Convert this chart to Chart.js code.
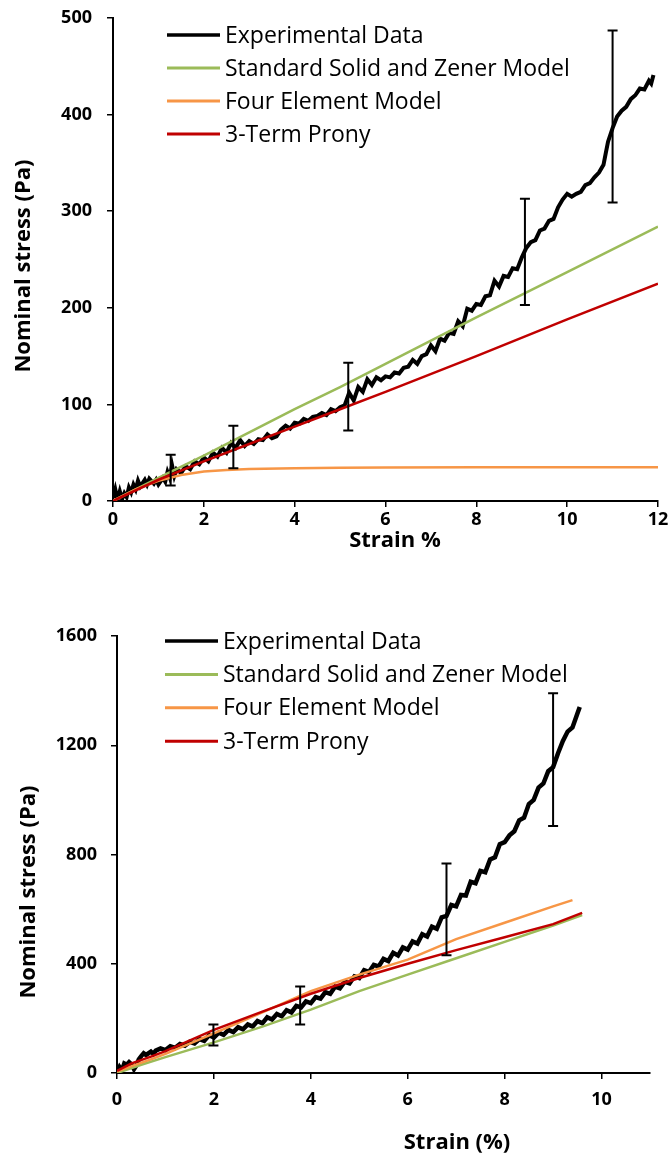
<!DOCTYPE html>
<html>
<head>
<meta charset="utf-8">
<script src="https://cdn.jsdelivr.net/npm/chart.js@4.4.1/dist/chart.umd.min.js"></script>
<style>
  html, body { margin: 0; padding: 0; background: #fff; }
  #box1 { position: absolute; left: 0; top: 0; width: 668px; height: 580px; }
  #box2 { position: absolute; left: 0; top: 580px; width: 668px; height: 579px; }
</style>
</head>
<body>
<div id="box1"><canvas id="chart1"></canvas></div>
<div id="box2"><canvas id="chart2"></canvas></div>
<script>
// ---- top chart data ----
const topExpX = [0,0.05,0.1,0.15,0.2,0.25,0.3,0.35,0.4,0.45,0.5,0.55,0.6,0.7,0.75,0.8,0.9,0.95,1,1.1,1.15,1.2,1.25,1.3,1.35,1.4,1.5,1.6,1.7,1.8,1.9,2,2.1,2.2,2.3,2.4,2.5,2.6,2.7,2.8,2.9,3,3.1,3.2,3.3,3.4,3.5,3.6,3.7,3.8,3.9,4,4.1,4.2,4.3,4.4,4.5,4.6,4.7,4.8,4.9,5,5.1,5.2,5.3,5.4,5.5,5.6,5.7,5.8,5.9,6,6.1,6.2,6.3,6.4,6.5,6.6,6.7,6.8,6.9,7,7.1,7.2,7.3,7.4,7.5,7.6,7.7,7.8,7.9,8,8.1,8.2,8.3,8.4,8.5,8.6,8.7,8.8,8.9,9,9.1,9.2,9.3,9.4,9.5,9.6,9.7,9.8,9.9,10,10.1,10.2,10.3,10.4,10.5,10.6,10.7,10.8,10.85,10.9,11,11.1,11.2,11.3,11.4,11.5,11.6,11.7,11.8,11.85,11.9];
const topExpY = [3,12,1,10,2,8,4,14,9,17,12,21,15,22,17,23,18,22,17,24,20,30,24,37,26,33,29,36,33,41,38,45,41,50,46,55,50,60,55,63,57,62,59,64,63,69,65,67,74,78,75,81,80,85,83,87,88,91,89,95,93,97,99,112,104,118,113,126,120,128,125,129,128,133,132,138,139,146,142,150,152,161,155,168,166,174,173,186,181,199,197,204,203,212,213,228,222,233,232,241,240,252,262,268,270,280,282,290,292,304,312,318,315,318,320,327,329,335,340,348,360,372,386,398,404,408,416,420,427,426,435,432,441];

const topSlsX = [0,1,2,3,4,5,6,8,10,12];
const topSlsY = [0,24,47,71,95,118,142,190,237,284];
const topFourX = [0,0.5,1,1.5,2,2.5,3,4,5,6,8,12];
const topFourY = [0,12,21,27,30.5,32,33,34,34.5,34.7,34.9,35];
const topPronyX = [0,1,2,3,4,5,6,8,10,12];
const topPronyY = [0,22,41,59,77,95,113,150,188,225];

const topErrX = [1.27, 2.65, 5.18, 9.07, 11.0];
const topErrLow = [16, 34, 73, 203, 309];
const topErrHigh = [48, 78, 143, 313, 487];

// ---- bottom chart data ----
const botExpX = [0,0.05,0.1,0.15,0.2,0.25,0.3,0.35,0.4,0.45,0.5,0.55,0.6,0.7,0.75,0.8,0.9,1,1.1,1.2,1.3,1.4,1.5,1.6,1.7,1.8,1.9,2,2.1,2.2,2.3,2.4,2.5,2.6,2.7,2.8,2.9,3,3.1,3.2,3.3,3.4,3.5,3.6,3.7,3.8,3.9,4,4.1,4.2,4.3,4.4,4.5,4.6,4.7,4.8,4.9,5,5.1,5.2,5.3,5.4,5.5,5.6,5.7,5.8,5.9,6,6.1,6.2,6.3,6.4,6.5,6.6,6.7,6.8,6.9,7,7.1,7.2,7.3,7.4,7.5,7.6,7.7,7.8,7.9,8,8.1,8.2,8.3,8.4,8.5,8.6,8.7,8.8,8.9,9,9.1,9.2,9.3,9.4,9.5,9.55];
const botExpY = [5,22,8,35,30,40,32,14,28,50,62,72,66,78,70,82,90,84,98,92,106,100,114,108,124,118,138,130,148,140,158,150,168,160,178,170,190,182,204,196,216,208,230,222,246,240,262,256,278,272,296,290,316,310,334,328,354,348,376,370,396,390,418,410,440,430,460,452,482,474,508,500,536,528,570,575,615,610,652,650,700,695,740,735,782,790,838,845,870,885,925,935,985,1000,1045,1060,1105,1120,1170,1215,1250,1265,1315,1340];

const botSlsX = [0,0.5,1,2,3,4,5,6,7,8,9,9.6];
const botSlsY = [0,30,58,112,170,232,300,360,420,480,540,578];
const botFourX = [0,0.3,0.7,1,2,3,4,5,6,7,8,9,9.4];
const botFourY = [5,25,50,70,145,222,300,360,415,490,550,610,633];
const botPronyX = [0,0.3,0.7,1,2,3,4,5,6,7,8,9,9.6];
const botPronyY = [8,35,60,80,158,225,290,348,400,450,497,545,586];

const botErrX = [1.99, 3.78, 6.8, 9.0];
const botErrLow = [101, 178, 431, 904];
const botErrHigh = [178, 317, 767, 1390];

const seriesNames = ["Experimental Data", "Standard Solid and Zener Model", "Four Element Model", "3-Term Prony"];
const seriesColors = ["#000000", "#9BBB59", "#F79646", "#C00000"];

const FONT = "'Open Sans'";
const pts = (xs, ys) => xs.map((x, i) => ({ x: x, y: ys[i] }));

// error bars, legend and axis titles drawn on top
const overlay = {
  id: 'overlay',
  afterDatasetsDraw(chart, args, o) {
    const ctx = chart.ctx;
    const xs = chart.scales.x, ys = chart.scales.y;
    const a = chart.chartArea;
    ctx.save();
    ctx.strokeStyle = '#000';
    ctx.lineWidth = 2;
    o.errX.forEach((v, i) => {
      const px = xs.getPixelForValue(v);
      const lo = ys.getPixelForValue(o.errLow[i]);
      const hi = ys.getPixelForValue(o.errHigh[i]);
      ctx.beginPath();
      ctx.moveTo(px, lo); ctx.lineTo(px, hi);
      ctx.moveTo(px - 5, lo); ctx.lineTo(px + 5, lo);
      ctx.moveTo(px - 5, hi); ctx.lineTo(px + 5, hi);
      ctx.stroke();
    });

    ctx.font = '23px ' + FONT;
    ctx.textBaseline = 'middle';
    ctx.fillStyle = '#000';
    chart.data.datasets.forEach((d, i) => {
      const y = a.top + o.legTop + i * o.legGap;
      const x0 = a.left + o.legLeft;
      ctx.strokeStyle = d.borderColor;
      ctx.lineWidth = i === 0 ? 3.5 : 3;
      ctx.beginPath();
      ctx.moveTo(x0, y);
      ctx.lineTo(x0 + o.legLen, y);
      ctx.stroke();
      ctx.fillText(d.label, x0 + o.legLen + 5, y + 1);
    });

    ctx.font = 'bold 22px ' + FONT;
    ctx.textAlign = 'center';
    ctx.fillText(o.xTitle, o.xTitlePos[0], o.xTitlePos[1]);
    ctx.translate(o.yTitlePos[0], o.yTitlePos[1]);
    ctx.rotate(-Math.PI / 2);
    ctx.fillText(o.yTitle, 0, 0);
    ctx.restore();
  }
};

function makeChart(id, series, cfg) {
  const orders = [4, 3, 2, 1];
  new Chart(document.getElementById(id), {
    type: 'line',
    data: {
      datasets: series.map((s, i) => ({
        label: seriesNames[i],
        data: pts(s[0], s[1]),
        borderColor: seriesColors[i],
        borderWidth: i === 0 ? cfg.expWidth : 2.5,
        pointRadius: 0,
        tension: 0,
        fill: false,
        order: orders[i]
      }))
    },
    options: {
      responsive: true,
      maintainAspectRatio: false,
      animation: false,
      layout: { padding: { left: 0, top: cfg.padTop, right: cfg.padRight, bottom: 0 } },
      plugins: {
        legend: { display: false },
        tooltip: { enabled: false },
        overlay: cfg.overlay
      },
      scales: {
        x: {
          type: 'linear',
          min: 0,
          max: cfg.xMax,
          afterBuildTicks: s => { s.ticks = s.ticks.filter(t => t.value % 2 === 0); },
          afterFit: s => { s.height = cfg.xHeight; s.paddingLeft = 0; s.paddingRight = 0; },
          ticks: {
            stepSize: 2,
            padding: cfg.xTickPad,
            color: '#000',
            callback: v => String(v),
            font: { family: FONT, size: 18, weight: 'bold' },
            maxRotation: 0
          },
          grid: { drawOnChartArea: false, drawTicks: true, tickLength: 6, color: '#000', lineWidth: 1.5 },
          border: { color: '#000', width: 2 }
        },
        y: {
          min: 0,
          max: cfg.yMax,
          afterFit: s => { s.width = cfg.yWidth; s.paddingTop = 0; s.paddingBottom = 0; },
          ticks: {
            stepSize: cfg.yStep,
            padding: cfg.yTickPad,
            color: '#000',
            callback: v => String(v),
            font: { family: FONT, size: 18, weight: 'bold' }
          },
          grid: { drawOnChartArea: false, drawTicks: true, tickLength: 6, color: '#000', lineWidth: 1.5 },
          border: { color: '#000', width: 2 }
        }
      }
    },
    plugins: [overlay]
  });
}

makeChart('chart1',
  [[topExpX, topExpY], [topSlsX, topSlsY], [topFourX, topFourY], [topPronyX, topPronyY]],
  {
    xMax: 12, yMax: 500, yStep: 100, expWidth: 4,
    padTop: 18, padRight: 10, yWidth: 113, xHeight: 79,
    xTickPad: 2, yTickPad: 15,
    overlay: {
      errX: topErrX, errLow: topErrLow, errHigh: topErrHigh,
      legTop: 17, legGap: 33, legLeft: 54, legLen: 53,
      xTitle: 'Strain %', xTitlePos: [395, 541],
      yTitle: 'Nominal stress (Pa)', yTitlePos: [24, 266]
    }
  });

makeChart('chart2',
  [[botExpX, botExpY], [botSlsX, botSlsY], [botFourX, botFourY], [botPronyX, botPronyY]],
  {
    xMax: 11, yMax: 1600, yStep: 400, expWidth: 4.5,
    padTop: 56, padRight: 18, yWidth: 117, xHeight: 86,
    xTickPad: 10, yTickPad: 14,
    overlay: {
      errX: botErrX, errLow: botErrLow, errHigh: botErrHigh,
      legTop: 5, legGap: 33.4, legLeft: 48, legLen: 53,
      xTitle: 'Strain (%)', xTitlePos: [457, 563],
      yTitle: 'Nominal stress (Pa)', yTitlePos: [29, 312]
    }
  });
</script>
</body>
</html>
